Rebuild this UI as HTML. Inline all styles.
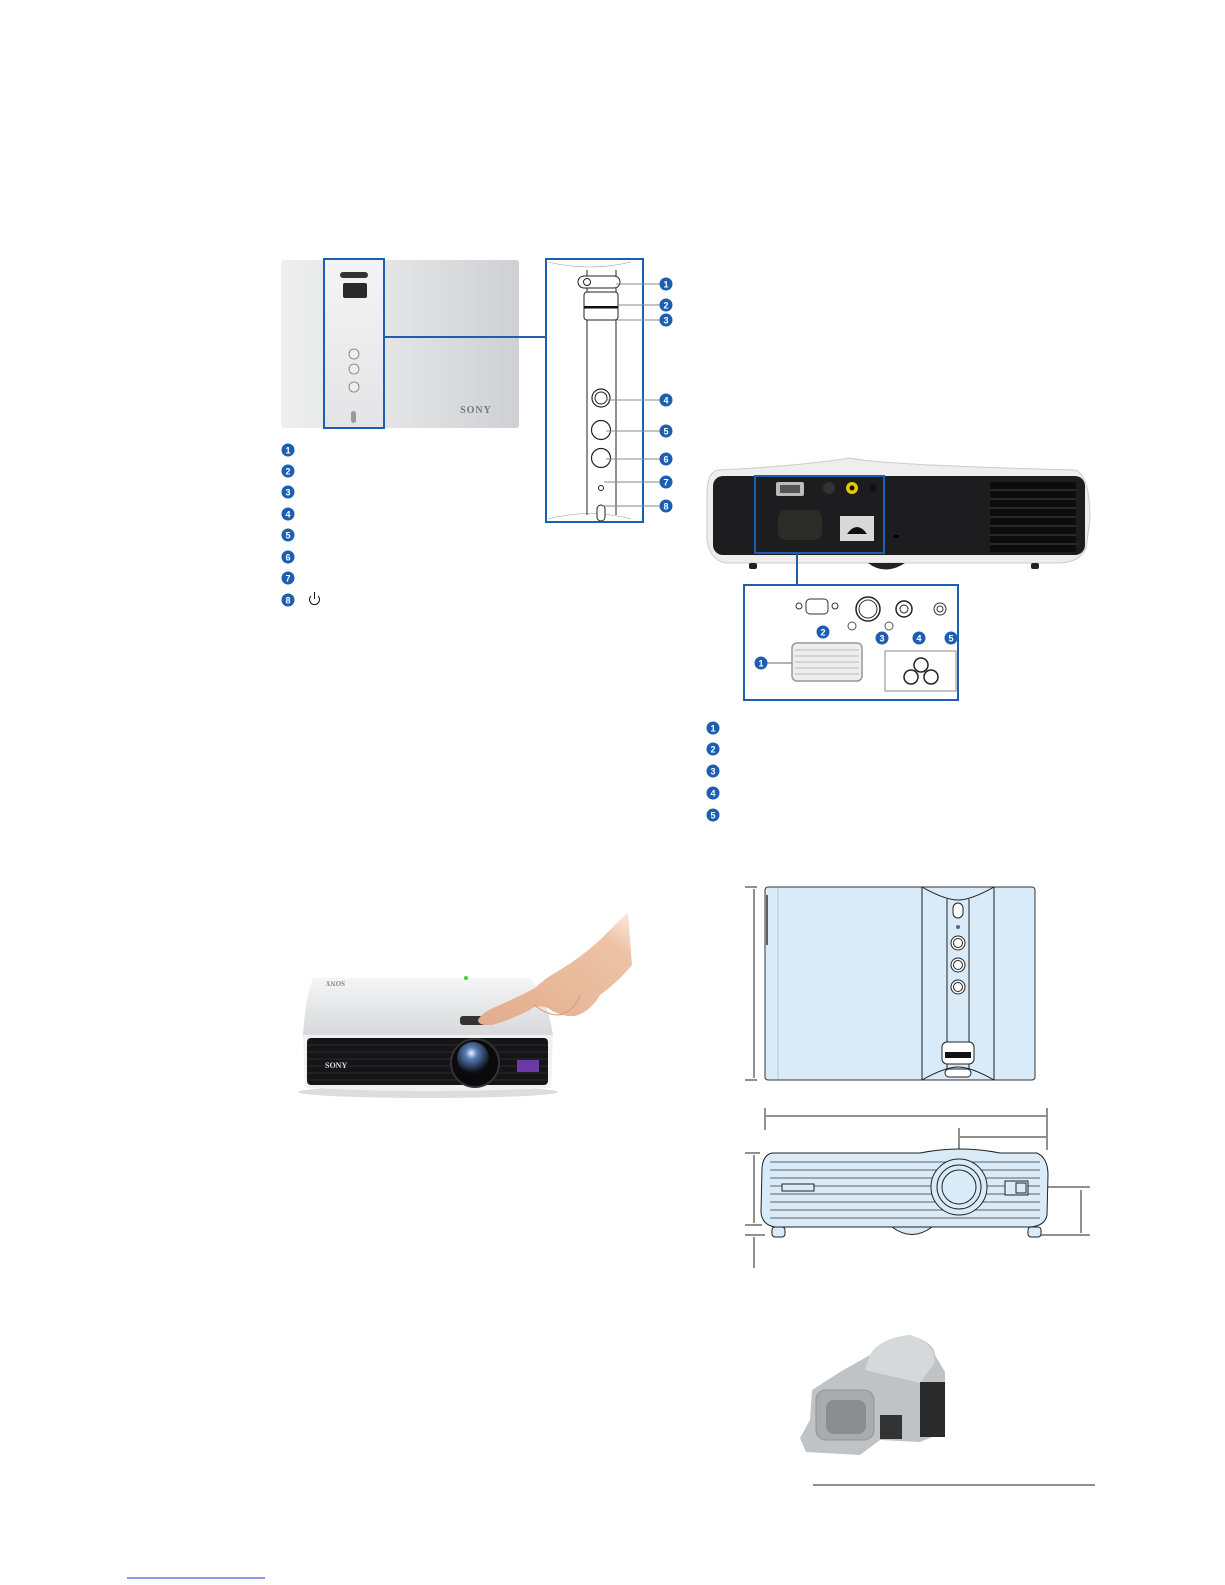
<!DOCTYPE html>
<html><head><meta charset="utf-8"><style>
html,body{margin:0;padding:0;background:#fff;}
svg{display:block;font-family:"Liberation Sans",sans-serif;}
</style></head><body>
<svg width="1225" height="1585" viewBox="0 0 1225 1585" xmlns="http://www.w3.org/2000/svg">
<defs>
<linearGradient id="gTop" x1="0" y1="0" x2="1" y2="0">
<stop offset="0" stop-color="#eeeeef"/><stop offset="0.5" stop-color="#e2e3e5"/><stop offset="1" stop-color="#cfd0d3"/></linearGradient>
<linearGradient id="gStrip" x1="0" y1="0" x2="0" y2="1">
<stop offset="0" stop-color="#f4f4f4"/><stop offset="1" stop-color="#e4e4e6"/></linearGradient>
<radialGradient id="gLens" cx="0.45" cy="0.35" r="0.6"><stop offset="0" stop-color="#eaf4ff"/><stop offset="0.3" stop-color="#5a7fb8"/><stop offset="1" stop-color="#0b0f18"/></radialGradient>
<linearGradient id="gHand" x1="0" y1="1" x2="1" y2="0"><stop offset="0" stop-color="#e3ac8c"/><stop offset="0.8" stop-color="#edc3a6"/><stop offset="1" stop-color="#fbeee6"/></linearGradient>
<linearGradient id="gBody" x1="0" y1="0" x2="0" y2="1"><stop offset="0" stop-color="#f5f5f6"/><stop offset="1" stop-color="#d8d9dc"/></linearGradient>
<g id="b"><circle r="6.5" fill="#1c5fb2"/></g>
</defs>
<rect width="1225" height="1585" fill="#fff"/>

<rect x="281" y="260" width="238" height="168" rx="3" fill="url(#gTop)"/>
<rect x="323" y="260" width="61" height="168" fill="url(#gStrip)"/>
<rect x="340" y="272" width="28" height="6" rx="3" fill="#333"/>
<rect x="343" y="283" width="24" height="15" rx="2" fill="#2a2a2a"/>
<circle cx="354" cy="354" r="5" fill="#eee" stroke="#777" stroke-width="0.8"/>
<circle cx="354" cy="369" r="5" fill="#eee" stroke="#777" stroke-width="0.8"/>
<circle cx="354" cy="387" r="5" fill="#eee" stroke="#777" stroke-width="0.8"/>
<rect x="351" y="411" width="5" height="12" rx="2.5" fill="#999"/>
<text x="476" y="413" font-family="Liberation Serif,serif" font-weight="bold" font-size="10" fill="#777" text-anchor="middle" letter-spacing="1">SONY</text>
<rect x="324" y="259" width="60" height="169" fill="none" stroke="#1c5fb2" stroke-width="2"/>
<line x1="384" y1="337" x2="546" y2="337" stroke="#1c5fb2" stroke-width="2"/>

<rect x="546" y="259" width="97" height="263" fill="#fff" stroke="#1c5fb2" stroke-width="2"/>
<path d="M548 262 Q590 272 631 262" fill="none" stroke="#999" stroke-width="0.6"/>
<path d="M548 519 Q590 508 631 519" fill="none" stroke="#999" stroke-width="0.6"/>
<line x1="587" y1="270" x2="587" y2="515" stroke="#222" stroke-width="1"/>
<line x1="616" y1="270" x2="616" y2="515" stroke="#222" stroke-width="1"/>
<rect x="578" y="276" width="42" height="12" rx="6" fill="#fff" stroke="#222" stroke-width="1"/>
<circle cx="587" cy="282" r="3.5" fill="#fff" stroke="#222"/>
<rect x="584" y="292" width="34" height="28" rx="3" fill="#fff" stroke="#222"/>
<rect x="584" y="306" width="34" height="2.5" fill="#111"/>
<circle cx="601" cy="398" r="9" fill="#fff" stroke="#222" stroke-width="1.2"/><circle cx="601" cy="398" r="6" fill="none" stroke="#222"/>
<circle cx="601" cy="430" r="9.5" fill="#fff" stroke="#222" stroke-width="1.2"/>
<circle cx="601" cy="458" r="9.5" fill="#fff" stroke="#222" stroke-width="1.2"/>
<circle cx="601" cy="488" r="2.5" fill="none" stroke="#222"/>
<rect x="597" y="505" width="8" height="16" rx="4" fill="#fff" stroke="#222"/>
<g stroke="#888" stroke-width="1">
<line x1="616" y1="284" x2="660" y2="284"/><line x1="617" y1="305" x2="660" y2="305"/>
<line x1="617" y1="320" x2="660" y2="320"/><line x1="606" y1="400" x2="660" y2="400"/>
<line x1="606" y1="431" x2="660" y2="431"/><line x1="606" y1="459" x2="660" y2="459"/>
<line x1="604" y1="482" x2="660" y2="482"/><line x1="602" y1="506" x2="660" y2="506"/>
</g>
<g font-size="9" font-weight="bold" fill="#fff" text-anchor="middle">
<use href="#b" x="666" y="284"/><text x="666" y="287.5">1</text>
<use href="#b" x="666" y="305"/><text x="666" y="308.5">2</text>
<use href="#b" x="666" y="320"/><text x="666" y="323.5">3</text>
<use href="#b" x="666" y="400"/><text x="666" y="403.5">4</text>
<use href="#b" x="666" y="431"/><text x="666" y="434.5">5</text>
<use href="#b" x="666" y="459"/><text x="666" y="462.5">6</text>
<use href="#b" x="666" y="482"/><text x="666" y="485.5">7</text>
<use href="#b" x="666" y="506"/><text x="666" y="509.5">8</text>
<use href="#b" x="288" y="450"/><text x="288" y="453.5">1</text>
<use href="#b" x="288" y="471"/><text x="288" y="474.5">2</text>
<use href="#b" x="288" y="492"/><text x="288" y="495.5">3</text>
<use href="#b" x="288" y="514"/><text x="288" y="517.5">4</text>
<use href="#b" x="288" y="535"/><text x="288" y="538.5">5</text>
<use href="#b" x="288" y="557"/><text x="288" y="560.5">6</text>
<use href="#b" x="288" y="578"/><text x="288" y="581.5">7</text>
<use href="#b" x="288" y="600"/><text x="288" y="603.5">8</text>
</g>
<path d="M311 596 A5 5 0 1 0 318 596" fill="none" stroke="#111" stroke-width="1"/><line x1="314.5" y1="592" x2="314.5" y2="599" stroke="#111"/>

<path d="M718 470 Q800 466 850 458 Q880 465 1075 470 Q1090 475 1090 520 L1086 548 Q1080 562 1060 563 L726 563 Q710 560 707 540 L707 490 Q708 472 718 470Z" fill="#eeeeee" stroke="#ccc"/>
<rect x="713" y="476" width="372" height="79" rx="10" fill="#1d1d1f"/>
<rect x="990" y="482" width="86" height="70" fill="#0c0c0c"/>
<g stroke="#444" stroke-width="1">
<line x1="990" y1="490" x2="1076" y2="490"/><line x1="990" y1="499" x2="1076" y2="499"/><line x1="990" y1="508" x2="1076" y2="508"/><line x1="990" y1="517" x2="1076" y2="517"/><line x1="990" y1="526" x2="1076" y2="526"/><line x1="990" y1="535" x2="1076" y2="535"/><line x1="990" y1="544" x2="1076" y2="544"/>
</g>
<rect x="749" y="563" width="8" height="6" rx="2" fill="#222"/><rect x="1031" y="563" width="8" height="6" rx="2" fill="#222"/>
<path d="M868 563 Q885 576 905 563Z" fill="#222"/>
<rect x="776" y="482" width="28" height="14" rx="2" fill="#bbb"/><rect x="780" y="485" width="20" height="8" fill="#555"/>
<circle cx="829" cy="488" r="6" fill="#333"/>
<circle cx="852" cy="488" r="6" fill="#e6c800"/><circle cx="852" cy="488" r="2.5" fill="#111"/>
<circle cx="873" cy="488" r="4" fill="#111"/>
<rect x="778" y="510" width="44" height="30" rx="8" fill="#2b2b28"/>
<rect x="840" y="516" width="34" height="25" fill="#d9d9d9"/><path d="M847 534 Q857 520 867 534Z" fill="#111"/>
<rect x="894" y="535" width="5" height="3" fill="#000"/>
<rect x="755" y="476" width="129" height="77" fill="none" stroke="#1c5fb2" stroke-width="2"/>
<line x1="797" y1="553" x2="797" y2="585" stroke="#1c5fb2" stroke-width="2"/>
<rect x="744" y="585" width="214" height="115" fill="#fff" stroke="#1c5fb2" stroke-width="2"/>
<rect x="806" y="599" width="22" height="15" rx="4" fill="#fff" stroke="#333"/>
<circle cx="799" cy="606" r="3" fill="#fff" stroke="#333"/><circle cx="835" cy="606" r="3" fill="#fff" stroke="#333"/>
<circle cx="868" cy="609" r="12" fill="#fff" stroke="#222" stroke-width="1.5"/><circle cx="868" cy="609" r="9" fill="none" stroke="#333"/>
<circle cx="852" cy="626" r="4" fill="none" stroke="#555"/>
<circle cx="904" cy="609" r="8" fill="#fff" stroke="#222" stroke-width="1.5"/><circle cx="904" cy="609" r="4" fill="none" stroke="#222"/>
<circle cx="889" cy="626" r="4" fill="none" stroke="#555"/>
<circle cx="940" cy="609" r="6" fill="#fff" stroke="#333"/><circle cx="940" cy="609" r="3" fill="none" stroke="#333"/>
<rect x="792" y="643" width="70" height="38" rx="5" fill="#eee" stroke="#999" stroke-width="1.5"/>
<g fill="none" stroke="#aaa" stroke-width="0.7">
<line x1="795" y1="650" x2="859" y2="650"/><line x1="795" y1="656" x2="859" y2="656"/><line x1="795" y1="662" x2="859" y2="662"/><line x1="795" y1="668" x2="859" y2="668"/><line x1="795" y1="674" x2="859" y2="674"/>
</g>
<rect x="885" y="651" width="71" height="40" fill="#fff" stroke="#888"/>
<circle cx="921" cy="665" r="7" fill="none" stroke="#222" stroke-width="1.5"/><circle cx="911" cy="677" r="7" fill="none" stroke="#222" stroke-width="1.5"/><circle cx="931" cy="677" r="7" fill="none" stroke="#222" stroke-width="1.5"/>
<line x1="767" y1="663" x2="792" y2="663" stroke="#888" stroke-width="1.2"/>
<g font-size="9" font-weight="bold" fill="#fff" text-anchor="middle">
<use href="#b" x="761" y="663"/><text x="761" y="666.5">1</text>
<use href="#b" x="823" y="632"/><text x="823" y="635.5">2</text>
<use href="#b" x="882" y="638"/><text x="882" y="641.5">3</text>
<use href="#b" x="919" y="638"/><text x="919" y="641.5">4</text>
<use href="#b" x="951" y="638"/><text x="951" y="641.5">5</text>
<use href="#b" x="713" y="728"/><text x="713" y="731.5">1</text>
<use href="#b" x="713" y="749"/><text x="713" y="752.5">2</text>
<use href="#b" x="713" y="771"/><text x="713" y="774.5">3</text>
<use href="#b" x="713" y="793"/><text x="713" y="796.5">4</text>
<use href="#b" x="713" y="815"/><text x="713" y="818.5">5</text>
</g>

<ellipse cx="428" cy="1092" rx="130" ry="6" fill="#ddd"/>
<path d="M313 978 L530 978 Q548 1000 553 1035 L303 1035 Q305 1000 313 978Z" fill="url(#gBody)"/>
<text x="345" y="985" font-family="Liberation Serif,serif" font-weight="bold" font-size="7" fill="#888" transform="rotate(180 345 983)">SONY</text>
<path d="M303 1035 L553 1035 L551 1088 Q430 1094 305 1088Z" fill="#f1f1f2"/>
<rect x="307" y="1038" width="241" height="47" rx="4" fill="#151517"/>
<g stroke="#2c2c2e" stroke-width="1"><line x1="307" y1="1045" x2="548" y2="1045"/><line x1="307" y1="1052" x2="548" y2="1052"/><line x1="307" y1="1059" x2="548" y2="1059"/><line x1="307" y1="1066" x2="548" y2="1066"/><line x1="307" y1="1073" x2="548" y2="1073"/><line x1="307" y1="1080" x2="548" y2="1080"/></g>
<circle cx="475" cy="1063" r="24" fill="#0a0a0c" stroke="#333" stroke-width="2"/>
<circle cx="473" cy="1058" r="16" fill="url(#gLens)"/>
<text x="325" y="1068" font-family="Liberation Serif,serif" font-weight="bold" font-size="8" fill="#ddd">SONY</text>
<rect x="517" y="1060" width="22" height="12" fill="#6a3aa8"/>
<rect x="460" y="1016" width="32" height="9" rx="3" fill="#333"/>
<circle cx="466" cy="978" r="2" fill="#4c4"/>
<path d="M478 1020 Q482 1012 500 1005 Q520 996 535 988 Q545 978 560 970 Q580 958 600 940 Q615 925 628 912 L632 965 Q618 982 600 995 Q590 1012 575 1016 Q560 1017 548 1008 Q535 1004 530 1010 Q510 1020 492 1025 Q478 1026 478 1020Z" fill="url(#gHand)"/>
<path d="M535 1005 Q545 1015 560 1015 Q575 1010 580 995" fill="none" stroke="#d39c7c" stroke-width="1"/>

<g stroke="#222" stroke-width="1" fill="none">
<line x1="745" y1="887" x2="757" y2="887"/><line x1="745" y1="1080" x2="757" y2="1080"/>
<line x1="754" y1="889" x2="754" y2="1078"/>
</g>
<rect x="765" y="887" width="270" height="193" rx="3" fill="#d9ebf8" stroke="#333" stroke-width="1"/>
<line x1="778" y1="888" x2="778" y2="1079" stroke="#9cb" stroke-width="0.8"/>
<line x1="767" y1="895" x2="767" y2="945" stroke="#333" stroke-width="1.5"/>
<line x1="922" y1="887" x2="922" y2="1080" stroke="#222"/>
<line x1="994" y1="887" x2="994" y2="1080" stroke="#222"/>
<line x1="947" y1="899" x2="947" y2="1075" stroke="#222"/>
<line x1="969" y1="899" x2="969" y2="1075" stroke="#222"/>
<path d="M922 887 Q945 900 958 900 Q971 900 994 887" fill="none" stroke="#222"/>
<path d="M922 1080 Q945 1067 958 1067 Q971 1067 994 1080" fill="none" stroke="#222"/>
<rect x="953" y="903" width="10" height="15" rx="5" fill="#fff" stroke="#222"/>
<circle cx="958" cy="927" r="2" fill="#666"/>
<circle cx="958" cy="943" r="7" fill="#fff" stroke="#222"/><circle cx="958" cy="943" r="4.5" fill="none" stroke="#222"/>
<circle cx="958" cy="965" r="7" fill="#fff" stroke="#222"/><circle cx="958" cy="965" r="4.5" fill="none" stroke="#222"/>
<circle cx="958" cy="987" r="7" fill="#fff" stroke="#222"/><circle cx="958" cy="987" r="4.5" fill="none" stroke="#222"/>
<rect x="942" y="1042" width="32" height="22" rx="5" fill="#fff" stroke="#222"/>
<rect x="945" y="1052" width="26" height="6" fill="#111"/>
<rect x="945" y="1069" width="26" height="8" rx="4" fill="#fff" stroke="#222"/>

<g stroke="#222" stroke-width="1" fill="none">
<line x1="765" y1="1108" x2="765" y2="1130"/><line x1="1047" y1="1108" x2="1047" y2="1150"/>
<line x1="766" y1="1116" x2="1046" y2="1116"/>
<line x1="959" y1="1128" x2="959" y2="1187"/><line x1="960" y1="1137" x2="1046" y2="1137"/>
<line x1="745" y1="1153" x2="760" y2="1153"/><line x1="745" y1="1225" x2="762" y2="1225"/><line x1="745" y1="1235" x2="765" y2="1235"/>
<line x1="754" y1="1155" x2="754" y2="1223"/><line x1="754" y1="1237" x2="754" y2="1268"/>
<line x1="959" y1="1187" x2="1090" y2="1187"/><line x1="1040" y1="1235" x2="1090" y2="1235"/>
<line x1="1081" y1="1190" x2="1081" y2="1233"/>
</g>
<path d="M772 1153 L920 1153 Q960 1145 1000 1153 L1037 1153 Q1048 1158 1048 1175 L1047 1215 Q1045 1226 1030 1227 L775 1227 Q762 1225 761 1212 L762 1168 Q763 1155 772 1153Z" fill="#d9ebf8" stroke="#222"/>
<g stroke="#333" stroke-width="0.8">
<line x1="770" y1="1162" x2="1040" y2="1162"/><line x1="770" y1="1170" x2="1040" y2="1170"/><line x1="770" y1="1178" x2="1040" y2="1178"/><line x1="770" y1="1186" x2="1040" y2="1186"/><line x1="770" y1="1194" x2="1040" y2="1194"/><line x1="770" y1="1202" x2="1040" y2="1202"/><line x1="770" y1="1210" x2="1040" y2="1210"/><line x1="770" y1="1218" x2="1040" y2="1218"/>
</g>
<rect x="782" y="1184" width="32" height="7" fill="#d9ebf8" stroke="#222"/>
<circle cx="959" cy="1187" r="28" fill="#d9ebf8" stroke="#222"/><circle cx="959" cy="1187" r="22" fill="none" stroke="#222"/><circle cx="959" cy="1187" r="17" fill="#d9ebf8" stroke="#222"/>
<rect x="1005" y="1181" width="23" height="14" fill="#d9ebf8" stroke="#222"/><rect x="1016" y="1183" width="10" height="10" fill="none" stroke="#222"/>
<rect x="772" y="1227" width="13" height="10" rx="3" fill="#d9ebf8" stroke="#222"/>
<rect x="1028" y="1227" width="13" height="10" rx="3" fill="#d9ebf8" stroke="#222"/>
<path d="M892 1227 Q912 1242 932 1227Z" fill="#d9ebf8" stroke="#222"/>

<path d="M840 1372 L870 1355 Q880 1338 910 1335 Q935 1343 935 1355 L945 1372 L945 1432 L920 1442 L880 1440 L860 1455 L806 1452 L800 1438 L810 1420 L812 1390Z" fill="#bfc3c5"/>
<path d="M870 1355 Q880 1338 910 1335 Q935 1343 935 1362 L920 1383 L865 1370Z" fill="#d6d9db"/>
<rect x="920" y="1382" width="25" height="55" fill="#2a2a2a"/>
<rect x="880" y="1415" width="22" height="24" fill="#333"/>
<rect x="816" y="1390" width="58" height="50" rx="10" fill="#a8acae" stroke="#8f9395"/>
<rect x="826" y="1400" width="40" height="34" rx="8" fill="#8a8e90"/>

<line x1="813" y1="1485" x2="1095" y2="1485" stroke="#222" stroke-width="1"/>
<line x1="127" y1="1578" x2="265" y2="1578" stroke="#2233cc" stroke-width="1"/>
</svg>
</body></html>
